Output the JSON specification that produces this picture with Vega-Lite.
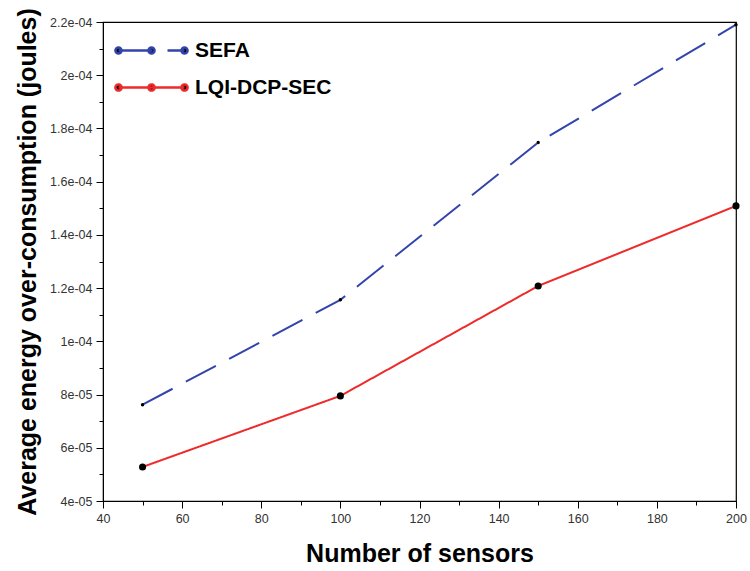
{
  "$schema": "https://vega.github.io/schema/vega-lite/v6.json",
  "width": 633,
  "height": 479,
  "autosize": {"type": "none"},
  "padding": {"left": 103, "top": 22, "right": 14, "bottom": 70},
  "background": "white",
  "config": {
    "view": {"stroke": "black", "strokeWidth": 1.2},
    "axis": {"grid": false, "domainColor": "black", "tickColor": "black", "labelFont": "Liberation Sans", "labelColor": "#333333", "labelFontSize": 12.5, "titleFont": "Liberation Sans", "titleFontWeight": "bold", "titleColor": "black"},
    "legend": {
      "symbolType": "M-3,0H3M-2.72,0A0.28,0.28 0 1,1 -3.28,0A0.28,0.28 0 1,1 -2.72,0M0.28,0A0.28,0.28 0 1,1 -0.28,0A0.28,0.28 0 1,1 0.28,0M3.28,0A0.28,0.28 0 1,1 2.72,0A0.28,0.28 0 1,1 3.28,0",
      "symbolSize": 484,
      "symbolStrokeWidth": 2.5,
      "symbolFillColor": "black",
      "labelFont": "Liberation Sans",
      "labelFontWeight": "bold",
      "labelFontSize": 21,
      "labelColor": "black",
      "rowPadding": 14,
      "labelOffset": 31
    }
  },
  "data": {
    "values": [
      {"sensors": 50, "energy": 7.62e-05, "series": "SEFA"},
      {"sensors": 100, "energy": 1.156e-04, "series": "SEFA"},
      {"sensors": 150, "energy": 1.747e-04, "series": "SEFA"},
      {"sensors": 200, "energy": 2.19e-04, "series": "SEFA"},
      {"sensors": 50, "energy": 5.28e-05, "series": "LQI-DCP-SEC"},
      {"sensors": 100, "energy": 7.95e-05, "series": "LQI-DCP-SEC"},
      {"sensors": 150, "energy": 1.208e-04, "series": "LQI-DCP-SEC"},
      {"sensors": 200, "energy": 1.509e-04, "series": "LQI-DCP-SEC"}
    ]
  },
  "encoding": {
    "x": {
      "field": "sensors", "type": "quantitative",
      "scale": {"domain": [40, 200], "nice": false, "zero": false},
      "axis": {
        "title": "Number of sensors",
        "titleFontSize": 25,
        "titlePadding": 17,
        "values": [40, 50, 60, 70, 80, 90, 100, 110, 120, 130, 140, 150, 160, 170, 180, 190, 200],
        "labelExpr": "datum.value % 20 == 0 ? datum.label : ''",
        "tickSize": {"condition": {"test": "datum.value % 20 == 0", "value": 7}, "value": 4},
        "labelPadding": 4,
        "labelFlush": false
      }
    },
    "y": {
      "field": "energy", "type": "quantitative",
      "scale": {"domain": [4e-05, 2.2e-04], "nice": false, "zero": false},
      "axis": {
        "title": "Average energy over-consumption (joules)",
        "titleFontSize": 25,
        "titlePadding": 9,
        "values": [4e-05, 5e-05, 6e-05, 7e-05, 8e-05, 9e-05, 1e-04, 1.1e-04, 1.2e-04, 1.3e-04, 1.4e-04, 1.5e-04, 1.6e-04, 1.7e-04, 1.8e-04, 1.9e-04, 2e-04, 2.1e-04, 2.2e-04],
        "labelExpr": "round(datum.value * 1e5) % 2 == 0 ? replace(replace(format(datum.value, '.1e'), '.0e', 'e'), 'e-', 'e-0') : ''",
        "tickSize": {"condition": {"test": "round(datum.value * 1e5) % 2 == 0", "value": 7}, "value": 4},
        "labelPadding": 4
      }
    }
  },
  "layer": [
    {
      "mark": {"type": "line", "strokeWidth": 2},
      "encoding": {
        "color": {
          "field": "series", "type": "nominal",
          "scale": {"domain": ["SEFA", "LQI-DCP-SEC"], "range": ["#3344aa", "#ee2a2a"]},
          "legend": {"title": null, "orient": "none", "legendX": 36, "legendY": 16}
        },
        "strokeDash": {
          "field": "series", "type": "nominal",
          "scale": {"domain": ["SEFA", "LQI-DCP-SEC"], "range": [[34, 15], [1, 0]]},
          "legend": {"title": null, "orient": "none", "legendX": 36, "legendY": 16}
        }
      }
    },
    {
      "mark": {"type": "point", "filled": true, "color": "black", "opacity": 1},
      "encoding": {
        "size": {"condition": {"test": "datum.series == 'SEFA'", "value": 12}, "value": 50}
      }
    }
  ]
}
